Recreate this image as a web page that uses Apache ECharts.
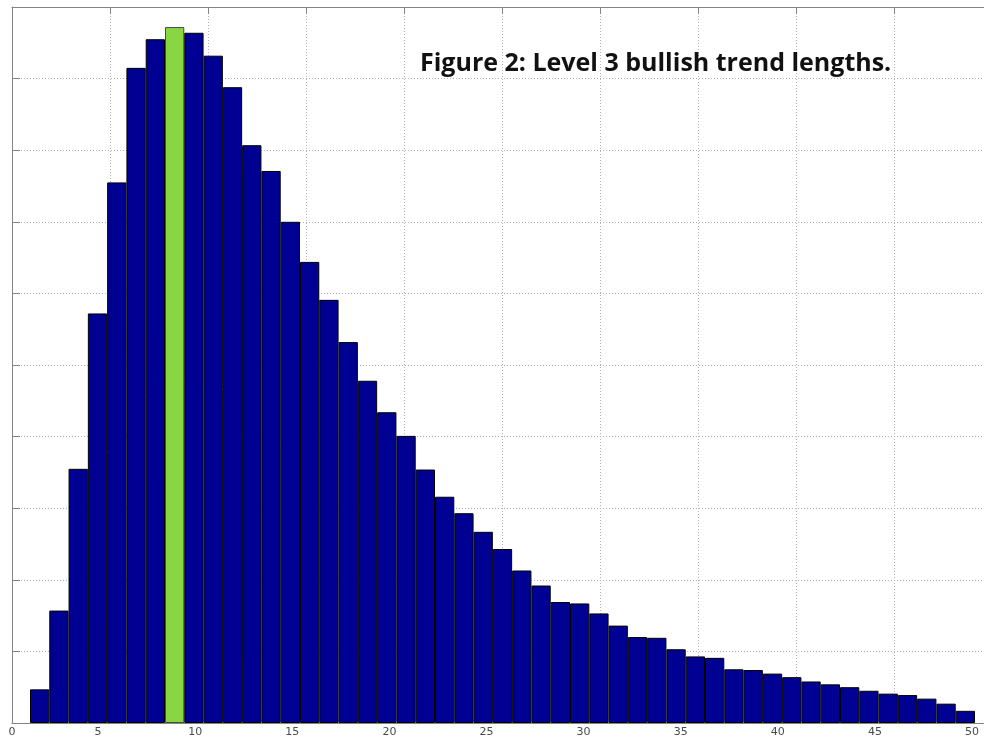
<!DOCTYPE html>
<html>
<head>
<meta charset="utf-8">
<title>Level 3 bullish trend lengths</title>
<script src="https://cdn.jsdelivr.net/npm/echarts@6/dist/echarts.min.js"></script>
<style>
html, body { margin: 0; padding: 0; background: #fff; }
#chart { width: 984px; height: 738px; }
</style>
</head>
<body>
<div id="chart"></div>
<script>
// histogram bins (trend length) and counts
var bins = [2, 3, 4, 5, 6, 7, 8, 9, 10, 11, 12, 13, 14, 15, 16, 17, 18, 19, 20, 21,
	22, 23, 24, 25, 26, 27, 28, 29, 30, 31, 32, 33, 34, 35, 36, 37, 38, 39, 40, 41,
	42, 43, 44, 45, 46, 47, 48, 49, 50];
var counts = [47, 157, 355, 572, 755, 915, 955, 972, 964, 932, 888, 807, 771, 700, 644, 591, 532, 478, 434, 401,
	354, 316, 293, 267, 243, 213, 192, 169, 167, 153, 136, 120, 119, 103, 93, 91, 75, 74, 69, 64,
	58, 54, 50, 45, 41, 39, 34, 27, 17];
var peakBin = 9;
var xTicks = [0, 5, 10, 15, 20, 25, 30, 35, 40, 45, 50];
var yMax = 1000;
var yStep = 100;

var titleText = 'Figure 2: Level 3 bullish trend lengths.';

var axisGray = '#858585';
var gridDots = {color: '#b3b3b3', width: 1, type: [1, 2]};

var chart = echarts.init(document.getElementById('chart'));

var barData = counts.map(function(v, i){
	if(bins[i] == peakBin){
		return {value: v, itemStyle: {color: '#88d641', borderColor: '#4a4a4a'}};
	}
	return v;
});

var option = {
	backgroundColor: '#fff',
	animation: false,
	title: {
		text: titleText,
		left: 420,
		top: 51,
		padding: 0,
		textStyle: {
			fontFamily: 'Open Sans',
			fontWeight: 'bold',
			fontSize: 25,
			color: '#111'
		}
	},
	grid: [
		// box, grid lines, ticks (runs past the right edge of the picture)
		{left: 12, width: 980, top: 7, bottom: 15, outerBoundsMode: 'none'},
		// bars
		{left: 30, right: 9, top: 7, bottom: 15, outerBoundsMode: 'none'},
		// tick labels
		{left: 1, right: 12, top: 7, bottom: 15, outerBoundsMode: 'none'}
	],
	xAxis: [
		{
			gridIndex: 0,
			type: 'value',
			min: xTicks[0],
			max: xTicks[xTicks.length - 1],
			interval: 5,
			axisLine: {lineStyle: {color: axisGray, width: 1}},
			axisTick: {show: false},
			axisLabel: {
				margin: 4,
				fontFamily: 'DejaVu Sans',
				fontSize: 11,
				color: '#4a4a4a',
				formatter: function(v){ return v === 0 ? '0' : ''; }
			},
			splitLine: {show: true, lineStyle: gridDots}
		},
		{
			gridIndex: 0,
			type: 'value',
			position: 'top',
			min: xTicks[0],
			max: xTicks[xTicks.length - 1],
			interval: 5,
			axisLine: {lineStyle: {color: axisGray, width: 1}},
			axisTick: {show: true, inside: true, length: 7, lineStyle: {color: axisGray}},
			axisLabel: {show: false},
			splitLine: {show: false}
		},
		{
			gridIndex: 1,
			type: 'category',
			data: bins,
			boundaryGap: true,
			show: false
		},
		{
			gridIndex: 2,
			type: 'value',
			min: xTicks[0],
			max: xTicks[xTicks.length - 1],
			interval: 5,
			axisLine: {show: false},
			axisTick: {show: false},
			axisLabel: {
				showMinLabel: false,
				margin: 4,
				fontFamily: 'DejaVu Sans',
				fontSize: 11,
				color: '#4a4a4a'
			},
			splitLine: {show: false}
		}
	],
	yAxis: [
		{
			gridIndex: 0,
			type: 'value',
			min: 0,
			max: yMax,
			interval: yStep,
			axisLine: {show: true, lineStyle: {color: axisGray, width: 1}},
			axisTick: {show: true, inside: true, length: 8, lineStyle: {color: axisGray}},
			axisLabel: {show: false},
			splitLine: {show: true, lineStyle: gridDots}
		},
		{gridIndex: 1, type: 'value', min: 0, max: yMax, show: false, splitLine: {show: false}},
		{gridIndex: 2, type: 'value', min: 0, max: yMax, show: false, splitLine: {show: false}}
	],
	series: [
		{
			name: 'trend lengths',
			type: 'bar',
			xAxisIndex: 2,
			yAxisIndex: 1,
			barWidth: '100%',
			barCategoryGap: 0,
			itemStyle: {color: '#000093', borderColor: '#000', borderWidth: 1},
			data: barData
		}
	]
};

chart.setOption(option);
window.addEventListener('resize', function(){
	chart.resize();
});
</script>
</body>
</html>
